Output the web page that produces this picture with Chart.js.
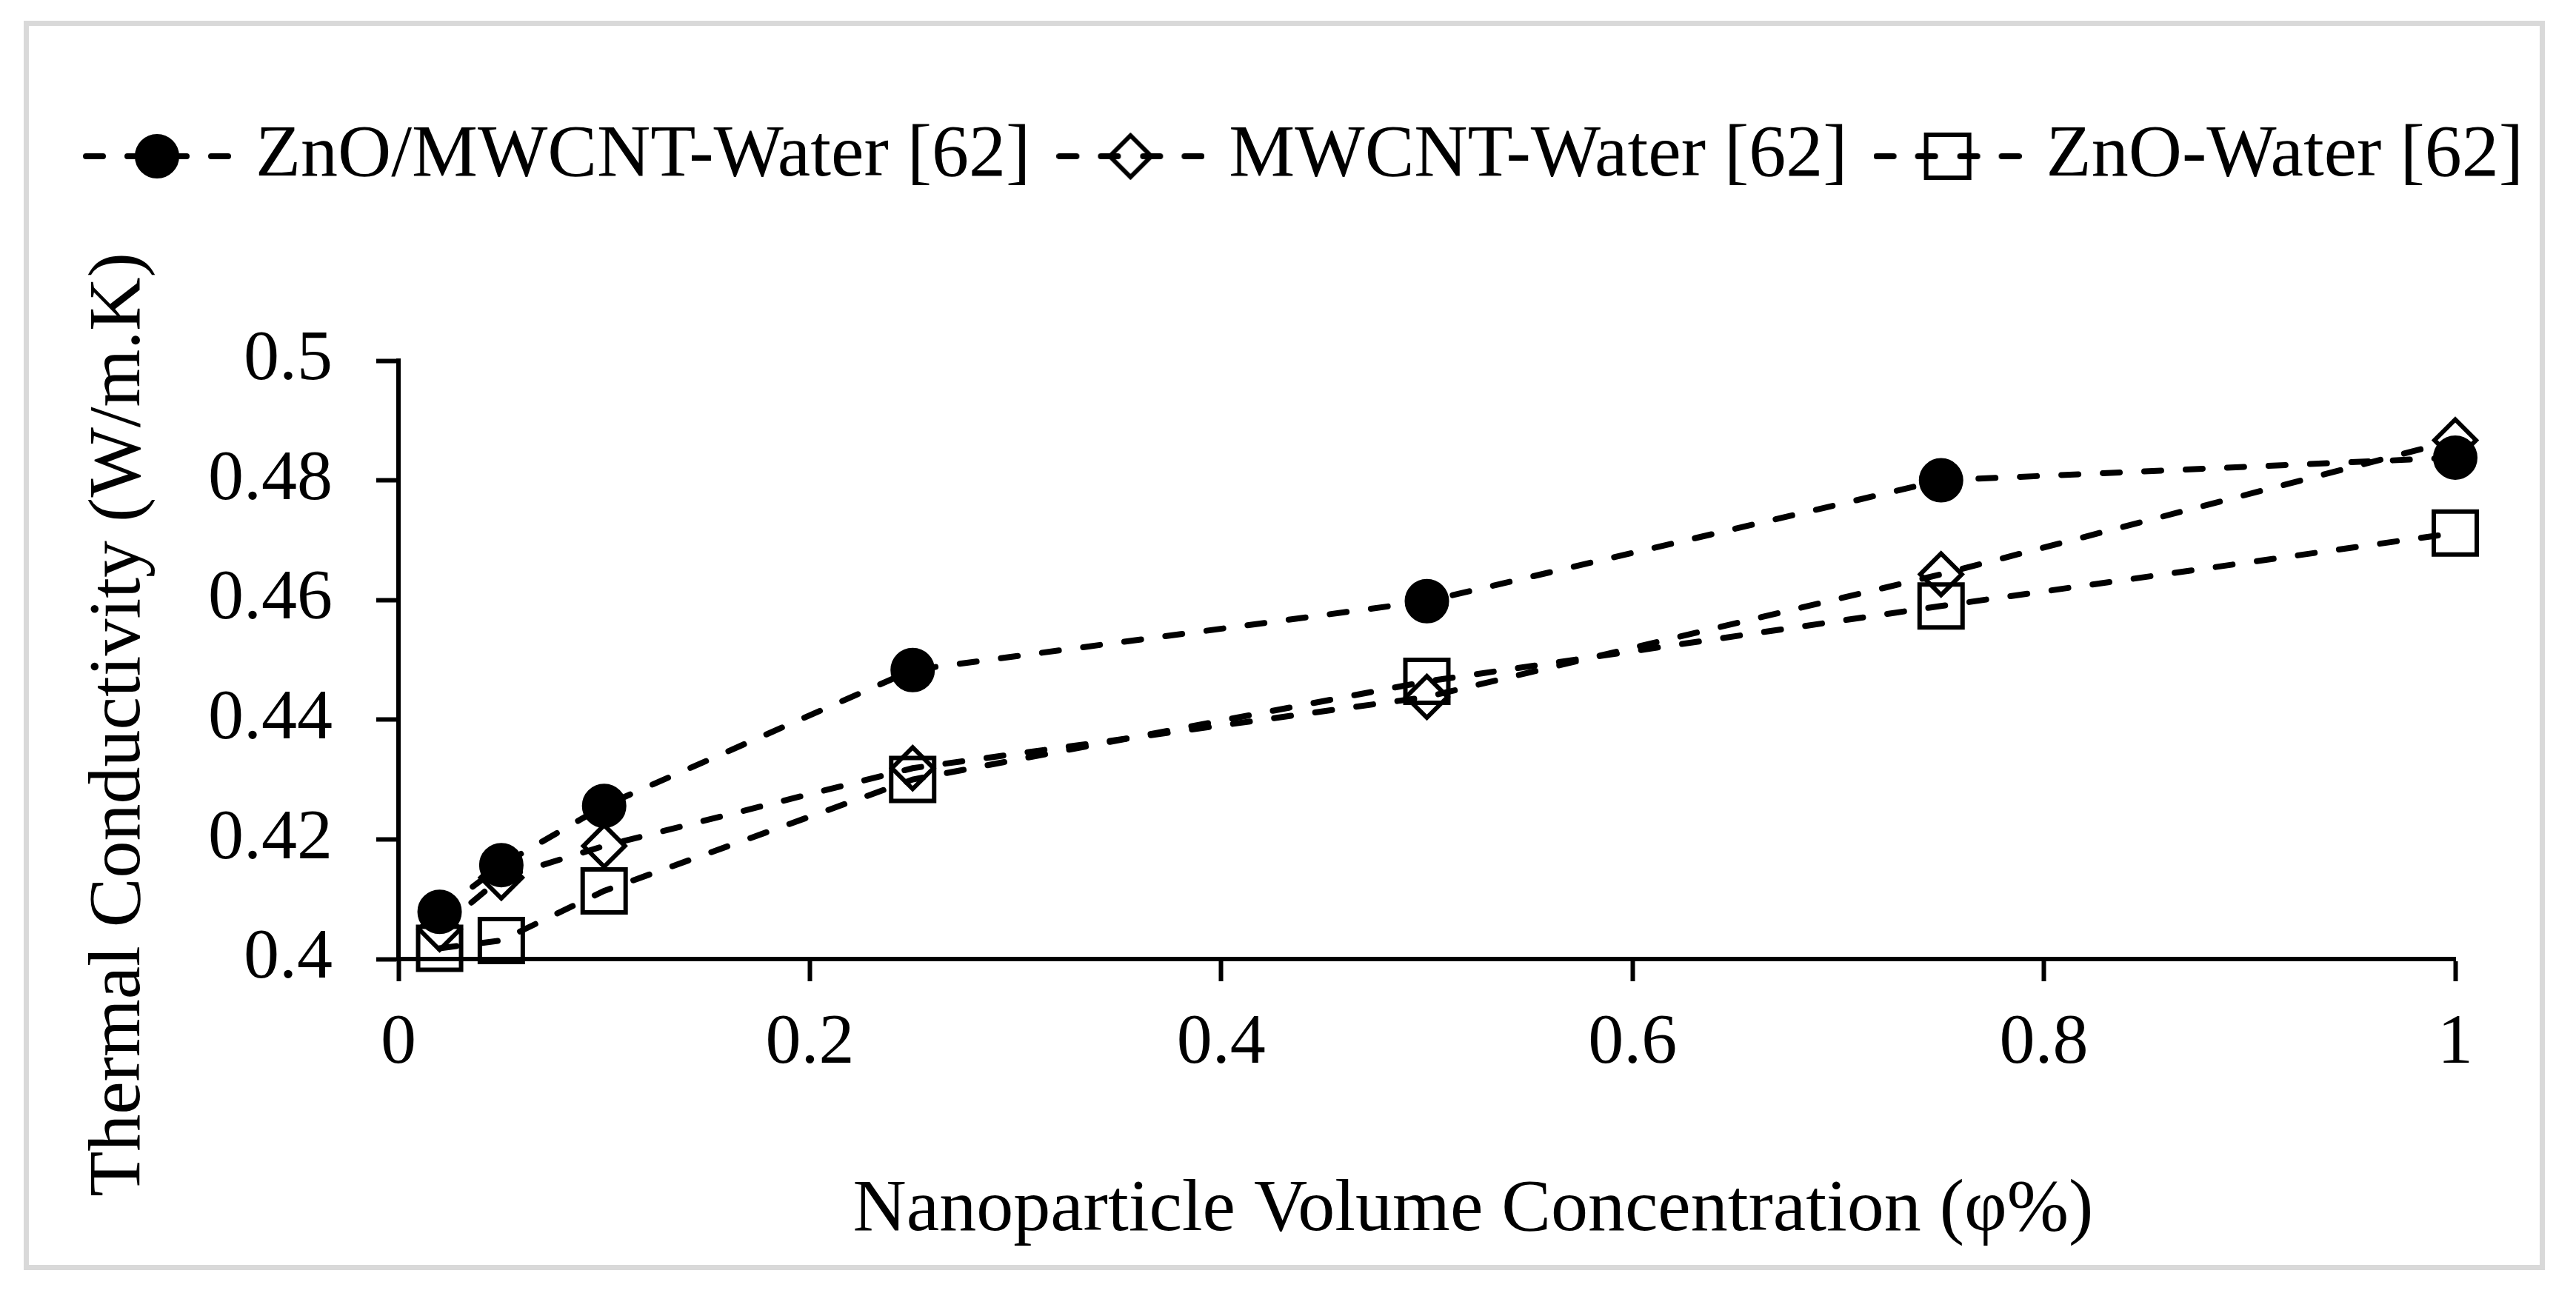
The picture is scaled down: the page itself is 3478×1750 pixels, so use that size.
<!DOCTYPE html>
<html>
<head>
<meta charset="utf-8">
<title>Thermal conductivity vs concentration</title>
<script src="https://cdn.jsdelivr.net/npm/chart.js"></script>
<style>
  html, body { margin: 0; padding: 0; background: #fff; }
  #chart { display: block; }
</style>
</head>
<body>
<canvas id="chart" width="3478" height="1750"></canvas>
<script>
// Nanoparticle volume concentration (%)
const concentrations = [0.02, 0.05, 0.1, 0.25, 0.5, 0.75, 1];

// Thermal conductivity (W/m.K)
const hybridValues = [0.4079, 0.4157, 0.4256, 0.4483, 0.4598, 0.4800, 0.4838];
const mwcntValues  = [0.4050, 0.4136, 0.4189, 0.4319, 0.4438, 0.4643, 0.4867];
const znoValues    = [0.4018, 0.4031, 0.4114, 0.4300, 0.4464, 0.4590, 0.4712];

const seriesNames = ['ZnO/MWCNT-Water [62]', 'MWCNT-Water [62]', 'ZnO-Water [62]'];

const xTicks = [0, 0.2, 0.4, 0.6, 0.8, 1];
const yTicks = [0.4, 0.42, 0.44, 0.46, 0.48, 0.5];

const FONT = "'Liberation Serif', 'Times New Roman', serif";
Chart.defaults.font.family = FONT;
Chart.defaults.color = '#000';

// marker look per series
const markers = [
    { pointStyle: 'circle',  radius: 27, fill: '#000' },
    { pointStyle: 'rectRot', radius: 28, fill: 'rgba(0,0,0,0)' },
    { pointStyle: 'rect',    radius: 41, fill: 'rgba(0,0,0,0)' }
];

const LINE_W = 8;
const DASH = [23, 33];

function toPoints(values) {
    return concentrations.map((x, i) => ({ x: x, y: values[i] }));
}

// legend symbols: dashed line with the marker in the middle
function makeLegendIcon(m) {
    const c = document.createElement('canvas');
    c.width = 200;
    c.height = 76;
    const ctx = c.getContext('2d');
    const cy = 38;
    ctx.strokeStyle = '#000';
    ctx.lineWidth = LINE_W;
    ctx.lineCap = 'round';
    ctx.setLineDash(DASH);
    ctx.beginPath();
    ctx.moveTo(4, cy); ctx.lineTo(100, cy);
    ctx.moveTo(196, cy); ctx.lineTo(100, cy);
    ctx.stroke();
    ctx.setLineDash([]);
    ctx.lineWidth = 6;
    ctx.fillStyle = m.fill;
    if (Chart.helpers && Chart.helpers.drawPoint) {
        Chart.helpers.drawPoint(ctx, { pointStyle: m.pointStyle, radius: m.radius, borderWidth: 6, rotation: 0 }, 100, cy);
    } else {
        ctx.beginPath();
        ctx.arc(100, cy, m.radius, 0, Math.PI * 2);
        ctx.fill();
        ctx.stroke();
    }
    return c;
}
const legendIcons = markers.map(makeLegendIcon);

function makeDataset(label, values, m) {
    return {
        label: label,
        data: toPoints(values),
        borderColor: '#000',
        borderWidth: LINE_W,
        borderDash: DASH,
        borderCapStyle: 'round',
        tension: 0,
        fill: false,
        clip: false,
        pointStyle: m.pointStyle,
        pointRadius: m.radius,
        pointHoverRadius: m.radius,
        pointBorderWidth: 6,
        pointBorderColor: '#000',
        pointBackgroundColor: m.fill
    };
}

// extra room under the legend, like the original figure
const LEGEND_HEIGHT = 378;
const legendGap = {
    id: 'legendGap',
    beforeInit(chart) {
        const fit = chart.legend.fit;
        chart.legend.fit = function () {
            fit.call(this);
            this.height = LEGEND_HEIGHT;
        };
    }
};

// light grey frame round the figure
const frame = {
    id: 'frame',
    afterDraw(chart) {
        const ctx = chart.ctx;
        ctx.save();
        ctx.strokeStyle = '#d9d9d9';
        ctx.lineWidth = 7;
        ctx.strokeRect(35.5, 31.5, 3397, 1680);
        ctx.restore();
    }
};

const NB = '\u00a0';

new Chart(document.getElementById('chart'), {
    type: 'line',
    data: {
        datasets: [
            makeDataset(seriesNames[0], hybridValues, markers[0]),
            makeDataset(seriesNames[1], mwcntValues, markers[1]),
            makeDataset(seriesNames[2], znoValues, markers[2])
        ]
    },
    options: {
        responsive: false,
        devicePixelRatio: 1,
        animation: false,
        layout: { padding: { left: 62, right: 4, top: 109, bottom: 35 } },
        plugins: {
            legend: {
                position: 'top',
                align: 'center',
                labels: {
                    font: { size: 100 },
                    color: '#000',
                    usePointStyle: true,
                    pointStyleWidth: 166,
                    padding: 52,
                    generateLabels(chart) {
                        const items = Chart.defaults.plugins.legend.labels.generateLabels(chart);
                        items.forEach(it => { it.pointStyle = legendIcons[it.datasetIndex]; });
                        return items;
                    }
                }
            },
            tooltip: { enabled: false }
        },
        scales: {
            x: {
                type: 'linear',
                min: 0,
                max: 1,
                afterBuildTicks: s => { s.ticks = xTicks.map(v => ({ value: v })); },
                afterFit: s => { s.height = 420; },
                ticks: {
                    font: { size: 96 },
                    color: '#000',
                    padding: 27,
                    maxRotation: 0,
                    callback: v => String(v)
                },
                grid: { display: true, drawOnChartArea: false, drawTicks: true, tickLength: 30, tickWidth: 6, tickColor: '#000' },
                border: { display: true, color: '#000', width: 6 },
                title: {
                    display: true,
                    text: NB.repeat(5) + 'Nanoparticle Volume Concentration (φ%)',
                    font: { size: 100 },
                    color: '#000',
                    padding: { top: 0, bottom: 20 }
                }
            },
            y: {
                type: 'linear',
                position: 'left',
                min: 0.4,
                max: 0.5,
                afterBuildTicks: s => { s.ticks = yTicks.map(v => ({ value: v })); },
                afterFit: s => { s.width = 476; },
                ticks: {
                    font: { size: 96 },
                    color: '#000',
                    padding: 59,
                    callback: v => String(v)
                },
                grid: { display: true, drawOnChartArea: false, drawTicks: true, tickLength: 30, tickWidth: 6, tickColor: '#000' },
                border: { display: true, color: '#000', width: 6 },
                title: {
                    display: true,
                    text: 'Thermal Conductivity (W/m.K)' + NB.repeat(7),
                    font: { size: 100 },
                    color: '#000',
                    padding: { top: 40, bottom: 0 }
                }
            },
            // empty right-hand axis, keeps the plot clear of the right edge
            yR: {
                type: 'linear',
                position: 'right',
                display: true,
                grid: { display: false, drawTicks: false },
                border: { display: false },
                ticks: { display: false },
                afterFit: s => { s.width = 159; }
            }
        }
    },
    plugins: [legendGap, frame]
});
</script>
</body>
</html>
